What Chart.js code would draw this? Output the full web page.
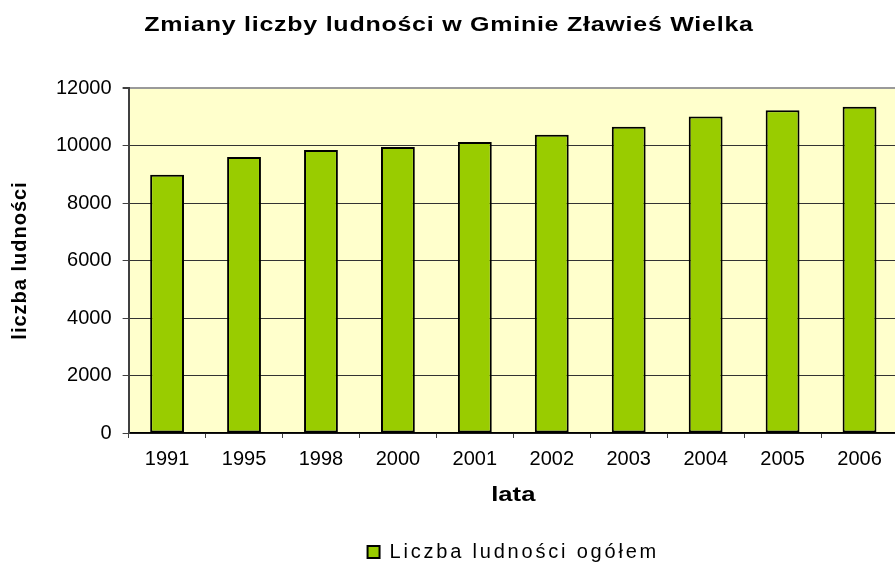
<!DOCTYPE html>
<html>
<head>
<meta charset="utf-8">
<script src="https://cdn.jsdelivr.net/npm/chart.js@4"></script>
<style>
  html, body { margin: 0; padding: 0; background: #fff; overflow: hidden; }
  canvas { display: block; }
</style>
</head>
<body>
<canvas id="grafico" width="898" height="562"></canvas>
<script>
// dane wykresu
const lata = ['1991', '1995', '1998', '2000', '2001', '2002', '2003', '2004', '2005', '2006'];
const ludnosc = [8980, 9600, 9840, 9950, 10120, 10370, 10650, 11010, 11230, 11350];
const osY = { min: 0, max: 12000, krok: 2000 };

Chart.defaults.font.family = "'Liberation Sans', Arial, sans-serif";
Chart.defaults.color = '#000';

// tekst rozciagniety / rozstawiony jak w oryginale
function rozstaw(ctx, px, fn) {
    ctx.save();
    ctx.letterSpacing = px + 'px';
    fn();
    ctx.restore();
}
function rozciagnij(ctx, cx, sx, px, fn) {
    ctx.save();
    ctx.translate(cx, 0);
    ctx.scale(sx, 1);
    ctx.translate(-cx, 0);
    ctx.letterSpacing = px + 'px';
    fn();
    ctx.restore();
}

const odstepy = {
    id: 'odstepy',
    afterInit(chart) {
        const lg = chart.legend;
        const fit = lg.fit.bind(lg), draw = lg.draw.bind(lg);
        lg.fit = () => rozstaw(chart.ctx, 2.8, fit);
        lg.draw = () => rozstaw(chart.ctx, 2.8, draw);
        const tb = chart.titleBlock;
        const tdraw = tb.draw.bind(tb);
        tb.draw = () => rozciagnij(chart.ctx, (tb.left + tb.right) / 2, 1.25, 0.6, tdraw);
    },
    beforeDraw(chart) {
        const sx = chart.scales.x, sy = chart.scales.y;
        if (!sx._rozstaw) {
            const ox = sx.drawTitle.bind(sx);
            sx.drawTitle = (...a) => rozciagnij(chart.ctx, (sx.left + sx.right) / 2, 1.28, 0, () => ox(...a));
            sx._rozstaw = true;
        }
        if (!sy._rozstaw) {
            const oy = sy.drawTitle.bind(sy);
            sy.drawTitle = (...a) => rozstaw(chart.ctx, 1, () => oy(...a));
            sy._rozstaw = true;
        }
    }
};

// tlo obszaru wykresu
const tlo = {
    id: 'tlo',
    beforeDraw(chart) {
        const { ctx, chartArea: a } = chart;
        ctx.save();
        ctx.fillStyle = '#FFFFCC';
        ctx.fillRect(a.left, a.top, a.right - a.left, a.bottom - a.top);
        ctx.restore();
    }
};

const dataset1 = {
    label: 'Liczba ludności ogółem',
    data: ludnosc,
    backgroundColor: '#99CC00',
    borderColor: '#000',
    borderWidth: 2,
    borderSkipped: false,
    categoryPercentage: 1,
    barPercentage: 0.44
};

const config = {
    type: 'bar',
    data: { labels: lata, datasets: [dataset1] },
    options: {
        responsive: false,
        animation: false,
        layout: { padding: { left: 0, right: 0, top: 0, bottom: -10 } },
        plugins: {
            title: {
                display: true,
                text: 'Zmiany liczby ludności w Gminie Zławieś Wielka',
                font: { size: 20, weight: 'bold' },
                color: '#000',
                padding: { top: 13, bottom: 51 }
            },
            legend: {
                position: 'bottom',
                fullSize: false,
                labels: {
                    boxWidth: 12,
                    boxHeight: 12,
                    padding: 6,
                    font: { size: 20 },
                    color: '#000'
                }
            },
            tooltip: { enabled: false }
        },
        scales: {
            x: {
                grid: { drawOnChartArea: false, tickLength: 5, color: '#404040' },
                border: { color: '#000', width: 1.5 },
                ticks: { font: { size: 20 }, padding: 9, color: '#000', maxRotation: 0 },
                title: {
                    display: true,
                    text: 'lata',
                    font: { size: 20, weight: 'bold' },
                    color: '#000',
                    padding: { top: 3, bottom: 29 }
                }
            },
            y: {
                min: osY.min,
                max: osY.max,
                grid: {
                    color: c => c.tick && c.tick.value === osY.max ? '#9a9a9a' : '#333',
                    lineWidth: c => c.tick && c.tick.value === osY.max ? 2 : 1,
                    tickLength: 6,
                    tickColor: '#404040'
                },
                border: { color: '#404040', width: 2 },
                ticks: {
                    stepSize: osY.krok,
                    font: { size: 20 },
                    padding: 11,
                    color: '#000',
                    callback: v => String(v)
                },
                title: {
                    display: true,
                    text: 'liczba ludności',
                    font: { size: 20, weight: 'bold' },
                    color: '#000',
                    padding: { top: 8, bottom: 13 }
                }
            }
        }
    },
    plugins: [tlo, odstepy]
};

new Chart(document.querySelector('#grafico'), config);
</script>
</body>
</html>
